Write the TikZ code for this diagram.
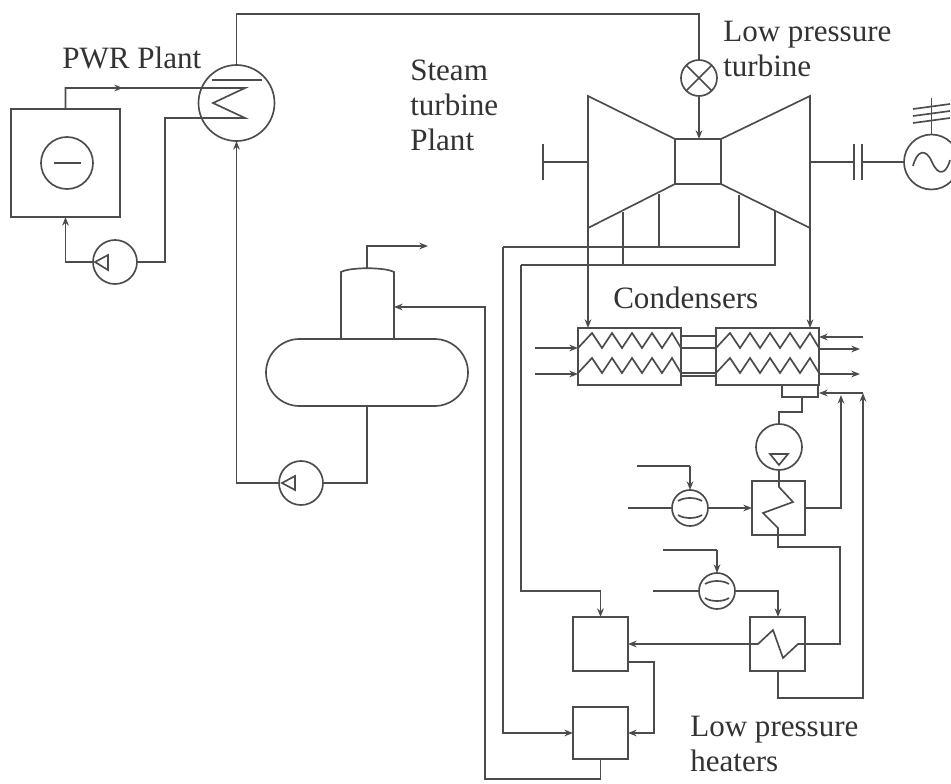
\documentclass[tikz,border=0pt]{standalone}
\usepackage{fontspec}
\setmainfont{Liberation Serif}
\usetikzlibrary{arrows.meta,decorations.markings,calc}
\definecolor{ink}{gray}{0.30}
\definecolor{txt}{gray}{0.2}
\tikzset{
  ln/.style={draw=ink,line width=1.25pt,line join=miter},
  thickln/.style={draw=ink,line width=2.2pt},
  tip/.style={-{Stealth[length=6.5pt,width=5pt]}},
  midtip/.style={postaction={decorate},decoration={markings,mark=at position #1 with {\arrow[ink]{Stealth[length=6.5pt,width=5pt]}}}},
  circ/.style={circle,ln,fill=white,minimum size=#1*0.75pt,inner sep=0pt,outer sep=0pt},
  unitbox/.style 2 args={rectangle,ln,minimum width=#1*0.75pt,minimum height=#2*0.75pt,inner sep=0pt,outer sep=0pt},
  lbl/.style={text=txt,font=\fontsize{23.3}{26.2}\selectfont,align=left,anchor=base west,inner sep=0pt},
}
\newcommand{\zigcoil}[2]{%
  \draw[ln] (#1,#2) -- ++(14,-15) -- ++(10,15) -- ++(10,-15) -- ++(10,15) -- ++(10,-15) -- ++(10,15) -- ++(10,-15) -- ++(10,15) -- ++(10,-15) -- ++(9,15);}
\begin{document}
\begin{tikzpicture}[x=0.75pt,y=-0.75pt]
\useasboundingbox (0,0) rectangle (951,783);
\clip (0,0) rectangle (951,783);

% ---------- PWR plant ----------
\node[unitbox={109}{108}] (reactor) at (65.5,163) {};
\node[circ=52] (core) at (67,163) {};
\draw[ln] (core.center) ++(-13,0) -- ++(27,0);
\node[circ=44] (pumpA) at (115,262) {};
\draw[ln] (pumpA.west) ++(2,0) -- ++(13,-7) -- ++(0,15) -- cycle;
\node[circ=76] (sg) at (236.5,103) {};
\draw[ln] (212,80) -- (262,80);
\coordinate (coilA) at (245,88);
\coordinate (coilB) at (245,118);
\coordinate (reactorOut) at (65.5,88);
\draw[ln,midtip=0.15] (reactor.north) -- (reactorOut) -- (coilA) -- (213,103) -- (coilB) -- (165,118) -- (165,262) -- (pumpA.east);
\draw[ln,tip] (pumpA.west) -- (65.5,262) -- (reactor.south);

% ---------- Turbine ----------
\node[unitbox={46}{45}] (hp) at (698,161.5) {};
\node[circ=36] (valve) at (699,78) {};
\draw[ln] (valve.center) ++(-12.7,-12.7) -- ++(25.4,25.4);
\draw[ln] (valve.center) ++(-12.7,12.7) -- ++(25.4,-25.4);
\coordinate (ltT) at (588,96);
\coordinate (ltB) at (588,228);
\coordinate (rtT) at (810,96);
\coordinate (rtB) at (810,228);
\draw[ln] (hp.north west) -- (ltT) -- (ltB) -- (hp.south west);
\draw[ln] (hp.north east) -- (rtT) -- (rtB) -- (hp.south east);
\draw[ln] (sg.north) -- (236.5,14) -- (699,14) -- (valve.north);
\draw[ln,tip] (valve.south) -- (699,139);
% left shaft
\coordinate (brake) at (543,162);
\draw[ln] (588,162) -- (brake);
\draw[ln,line width=1.7pt] (543,144) -- (543,180);
% right shaft and generator
\node[circ=55] (gen) at (931.5,162) {};
\draw[ln] (810,162) -- (854,162);
\draw[ln] (862,162) -- (gen.west);
\draw[ln,line width=1.6pt] (854,144) -- (854,180);
\draw[ln,line width=1.6pt] (862,144) -- (862,180);
\draw[ln] (913,166) .. controls (917,150) and (926,148) .. (932,162) .. controls (938,176) and (946,175) .. (950,160);
\draw[ln] (gen.north) -- (931.5,98);
\draw[ln] (913,109) -- (950,104);
\draw[ln] (913,116) -- (950,111);
\draw[ln] (913,123) -- (950,118);

% ---------- Deaerator ----------
\node[rectangle,ln,rounded corners=33.5*0.75pt,minimum width=202*0.75pt,minimum height=67*0.75pt,inner sep=0pt,outer sep=0pt] (tank) at (367,372.5) {};
\coordinate (colTL) at (341,272);
\coordinate (colTR) at (394,272);
\draw[ln] (341,339) -- (colTL) .. controls (350,267) and (385,267) .. (colTR) -- (394,339);
\coordinate (vent) at (428,246);
\draw[ln,tip] (367,268) -- (367,246) -- (vent);
\node[circ=44] (pumpB) at (301,483) {};
\draw[ln] (pumpB.west) ++(3,0) -- ++(13,-7) -- ++(0,14) -- cycle;
\draw[ln] (tank.south) -- (367,483) -- (pumpB.east);
\draw[ln,tip] (pumpB.west) -- (236.5,483) -- (sg.south);

% ---------- Condensers ----------
\node[unitbox={103}{57}] (condL) at (629.5,356.5) {};
\node[unitbox={103}{57}] (condR) at (767.5,356.5) {};
\node[unitbox={36}{12}] (well) at (800,391) {};
\zigcoil{578}{348}
\zigcoil{578}{373}
\zigcoil{716}{348}
\zigcoil{716}{373}
\draw[ln,tip] (ltB) -- (588,328);
\draw[ln,tip] (rtB) -- (810,328);
\draw[ln,tip] (535,348) -- (578,348);
\draw[ln,tip] (535,374) -- (578,374);
\draw[ln] (681,336) -- (716,336);
\draw[ln,line width=1.7pt] (681,348) -- (716,348);
\draw[ln] (681,373) -- (716,373);
\draw[ln] (681,376) -- (716,376);
\draw[ln,tip] (863,337) -- (819,337);
\draw[ln,tip] (819,349) -- (860,349);
\draw[ln,tip] (819,374) -- (860,374);

% ---------- Condensate pump and heaters ----------
\node[circ=46] (pumpC) at (779,447) {};
\draw[ln] (779,465) -- (770,454) -- (788,454) -- cycle;
\draw[ln] (well.south) ++(2,0) -- ++(0,15) -- (779,412) -- (pumpC.north);
\node[unitbox={53}{54}] (hxA) at (778.5,508) {};
\node[unitbox={55}{54}] (hxB) at (777.5,644) {};
\node[unitbox={55}{54}] (lpA) at (600.5,644) {};
\node[unitbox={55}{52}] (lpB) at (600.5,733) {};
\draw[ln] (pumpC.south) -- (779,487) -- (793,502) -- (763,513) -- (778,528) -- (778,547) -- (840,547) -- (840,644) -- (798,644) -- (783,658) -- (773,630) -- (758,644) -- (750,644);
\draw[ln,tip] (750,644) -- (lpA.east);

% flash tanks
\node[circ=36] (flashA) at (690,508) {};
\draw[ln] (678,501) .. controls (684,497) and (696,497) .. (702,501);
\draw[ln] (678,515) .. controls (684,519) and (696,519) .. (702,515);
\node[circ=36] (flashB) at (717,591) {};
\draw[ln] (705,584) .. controls (711,580) and (723,580) .. (729,584);
\draw[ln] (705,598) .. controls (711,602) and (723,602) .. (729,598);
\coordinate (steamA) at (637,466);
\coordinate (steamB) at (663,550);
\coordinate (inA) at (628,508);
\coordinate (inB) at (653,591);
\draw[thickln] (steamA) -- (690,466);
\draw[ln,tip] (690,466) -- (flashA.north);
\draw[thickln] (steamB) -- (717,550);
\draw[ln,tip] (717,550) -- (flashB.north);
\draw[ln] (inA) -- (flashA.west);
\draw[ln] (inB) -- (flashB.west);
\draw[ln,tip] (flashA.east) -- (hxA.west);
\draw[ln,tip] (flashB.east) -- (778,591) -- (778,617);

% drains back to the condenser
\draw[ln,tip] (hxA.east) -- (841,508) -- (841,395);
\draw[ln,tip] (778,671) -- (778,698) -- (863,698) -- (863,393);
\draw[ln,tip] (863,393) -- (819,393);

% heater to heater
\draw[ln,tip] (628,662) -- (654,662) |- (lpB.east);

% ---------- Extraction lines ----------
\draw[ln] (739,195) -- (739,247) -- (503,247);
\draw[ln] (659,194) -- (659,247);
\draw[ln,tip] (503,247) |- (lpB.west);
\draw[ln] (775,211) -- (775,265) -- (521,265);
\draw[ln] (623,212) -- (623,265);
\draw[ln,tip] (521,265) -- (521,591) -- (600.5,591) -- (lpA.north);
\draw[ln,tip] (lpB.south) -- (600.5,779) -- (485,779) -- (485,307) -- (394,307);

% ---------- Labels ----------
\node[lbl] (tPWR) at (62,68) {PWR Plant};
\node[lbl] (tSteam) at (410,150) {Steam\\turbine\\Plant};
\node[lbl] (tLow) at (723,76) {Low pressure\\turbine};
\node[lbl] (tCond) at (613,308) {Condensers};
\node[lbl] (tHeat) at (690,771) {Low pressure\\heaters};
\end{tikzpicture}
\end{document}
